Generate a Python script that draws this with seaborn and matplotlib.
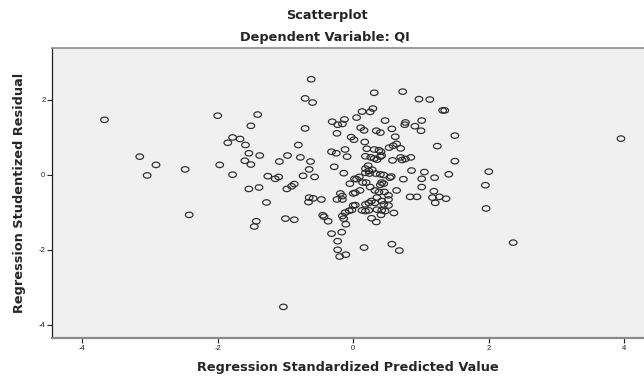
import numpy as np
import pandas as pd
import matplotlib
matplotlib.use("Agg")
import matplotlib.pyplot as plt
from matplotlib.path import Path
import seaborn as sns

# ---- data ----
pred_x = [
    -3.67, -3.15, -2.91, -3.04, -2.48, -2.00, -1.41, -1.51, -1.78, -1.67,
    -1.85, -1.59, -1.54, -1.38, -1.60, -1.51, -1.97, -1.78, -1.26, -1.15,
    -1.10, -1.54, -1.39, -2.42, -1.43, -1.46, -1.28, -1.03,
    -0.62, -0.71, -0.60, -0.71, -0.31, -0.23, -0.16, -0.13, -0.24, -0.03,
    0.01, -0.81, -0.32, -0.25, -0.12, -0.09, -0.97, -1.09, -0.78, -0.63,
    -0.65, -0.28, -0.14, -0.98, -0.91, -0.87, -0.74, -0.57, -0.65, -0.59,
    -0.66, -0.47, -0.05, 0.02, 0.00, -0.19, -0.16, -0.24, -0.16, 0.00,
    -0.12, -0.06, -0.02, -0.16, -0.14, -0.11, -1.00, -0.87, -0.45, -0.43,
    -0.37, -0.32, -0.17, -0.23, -0.23, -0.20, -0.11,
    0.31, 0.73, 0.97, 1.13, 1.32, 1.35, 0.29, 0.13, 0.25, 0.05,
    0.47, 0.77, 0.76, 1.01, 0.91, 1.00, 0.11, 0.16, 0.34, 0.40,
    0.57, 0.62, 1.50, 0.17, 1.24, 0.20, 0.31, 0.38, 0.41, 0.53,
    0.59, 0.64, 0.70, 0.18, 0.26, 0.31, 0.35, 0.40, 0.42, 0.58,
    0.70, 0.72, 0.77, 0.85, 1.50, 0.22, 0.18, 0.28, 0.86, 1.05, 1.41,
    0.23, 0.18, 0.24, 0.33, 0.40, 0.45, 0.56, 0.54, 0.09, 0.05,
    0.14, 0.19, 0.10, 0.03, 0.25, 0.40, 0.45, 0.42, 0.32, 0.38,
    0.46, 0.52, 0.64, 0.74, 1.01, 1.20, 1.01, 1.19, 0.84, 0.94,
    1.17, 1.27, 1.37, 1.21, 0.35, 0.27, 0.23, 0.18, 0.32, 0.42,
    0.52, 0.45, 0.52, 0.03, 0.13, 0.18, 0.23, 0.35, 0.42, 0.47,
    0.41, 0.60, 0.27, 0.34, 0.16, 0.57, 0.68,
    2.00, 1.95, 1.96, 2.36, 3.95,
]
stud_resid = [
    1.46, 0.48, 0.26, -0.02, 0.14, 1.57, 1.60, 1.30, 0.99, 0.95,
    0.85, 0.79, 0.57, 0.51, 0.37, 0.27, 0.26, 0.00, -0.04, -0.11,
    -0.06, -0.38, -0.34, -1.07, -1.24, -1.38, -0.74, -3.52,
    2.54, 2.03, 1.92, 1.23, 1.41, 1.33, 1.35, 1.47, 1.10, 1.00,
    0.93, 0.79, 0.61, 0.57, 0.67, 0.48, 0.51, 0.35, 0.46, 0.35,
    0.14, 0.21, 0.04, -0.38, -0.31, -0.25, -0.03, -0.06, -0.61, -0.63,
    -0.73, -0.66, -0.24, -0.11, -0.50, -0.50, -0.57, -0.66, -0.66, -0.82,
    -1.01, -0.96, -0.94, -1.10, -1.17, -1.32, -1.17, -1.20, -1.08, -1.12,
    -1.24, -1.57, -1.53, -1.77, -2.00, -2.18, -2.13,
    2.18, 2.21, 2.01, 2.00, 1.71, 1.71, 1.76, 1.68, 1.67, 1.52,
    1.44, 1.39, 1.33, 1.44, 1.29, 1.17, 1.25, 1.18, 1.17, 1.12,
    1.22, 1.01, 1.04, 0.87, 0.76, 0.69, 0.67, 0.65, 0.61, 0.72,
    0.77, 0.82, 0.70, 0.49, 0.46, 0.43, 0.40, 0.48, 0.51, 0.38,
    0.46, 0.39, 0.42, 0.46, 0.36, 0.24, 0.16, 0.13, 0.11, 0.07, 0.01,
    0.10, 0.05, 0.03, 0.03, 0.01, -0.01, -0.05, -0.08, -0.06, -0.12,
    -0.21, -0.21, -0.42, -0.48, -0.33, -0.27, -0.24, -0.21, -0.42, -0.46,
    -0.46, -0.55, -0.42, -0.12, -0.11, -0.08, -0.33, -0.44, -0.59, -0.59,
    -0.61, -0.59, -0.64, -0.75, -0.61, -0.70, -0.75, -0.79, -0.75, -0.70,
    -0.66, -0.79, -0.82, -0.81, -0.95, -0.97, -0.95, -0.93, -0.95, -0.97,
    -1.07, -1.02, -1.16, -1.26, -1.94, -1.85, -2.02,
    0.08, -0.28, -0.90, -1.81, 0.96,
]
x_ticks = [-4, -2, 0, 2, 4]
y_ticks = [-4, -2, 0, 2]
x_tick_labels = ["-4", "-2", "0", "2", "4"]
y_tick_labels = ["-4", "-2", "0", "2"]

title_main = "Scatterplot"
title_sub = "Dependent Variable: QI"
x_label = "Regression Standardized Predicted Value"
y_label = "Regression Studentized Residual"

df = pd.DataFrame({"pred": pred_x, "resid": stud_resid})

sns.set_theme(style="white")
plt.rcParams["font.family"] = ["Liberation Sans", "DejaVu Sans"]
label_font = {"family": "DejaVu Sans", "weight": "bold", "size": 9.3}

fig = plt.figure(figsize=(6.44, 3.76), dpi=100)
fig.patch.set_facecolor("white")
ax = fig.add_axes([52.3 / 644, 38.3 / 376, (644 - 52.3) / 644, 290.0 / 376])
ax.set_facecolor("#f0f0f0")

# slightly flattened circle marker, as in the reference
t = np.linspace(0, 2 * np.pi, 41)
verts = np.column_stack([np.cos(t), 0.72 * np.sin(t)])
ell = Path(verts, closed=True)

sns.scatterplot(data=df, x="pred", y="resid", marker=ell, s=30,
                linewidth=0.85, ax=ax, legend=False)
coll = ax.collections[0]
coll.set_facecolor("none")
coll.set_edgecolor("#2a2a2a")

ax.set_xlim(-4.44, 4.29)
ax.set_ylim(-4.34, 3.38)
ax.set_xticks(x_ticks)
ax.set_xticklabels(x_tick_labels)
ax.set_yticks(y_ticks)
ax.set_yticklabels(y_tick_labels)
ax.tick_params(axis="both", which="both", direction="out", length=3.5,
               width=0.8, labelsize=5.5, pad=1.5, colors="#222222",
               bottom=True, left=True)

ax.spines["left"].set_color("#222222")
ax.spines["left"].set_linewidth(0.9)
ax.spines["bottom"].set_color("#8a8a8a")
ax.spines["bottom"].set_linewidth(1.6)
ax.spines["top"].set_color("#8a8a8a")
ax.spines["top"].set_linewidth(1.2)
ax.spines["right"].set_visible(False)

ax.set_xlabel(x_label, fontdict=label_font, labelpad=7)
ax.set_ylabel(y_label, fontdict=label_font, labelpad=9)

fig.text(327 / 644, 1 - 15 / 376, title_main, ha="center", va="center",
         fontdict=label_font)
fig.text(325 / 644, 1 - 37 / 376, title_sub, ha="center", va="center",
         fontdict=label_font)

fig.savefig("out.png", dpi=100)
